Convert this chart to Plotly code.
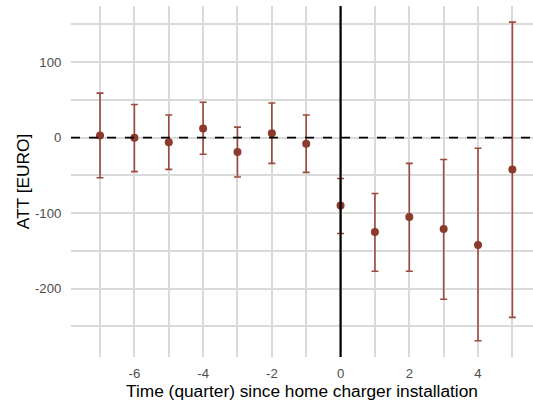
import plotly.graph_objects as go

quarters = [-7, -6, -5, -4, -3, -2, -1, 0, 1, 2, 3, 4, 5]
att = [3, 0, -6, 12, -19, 6, -8, -90, -125, -105, -121, -142, -42]
ci_upper = [59, 44, 30, 47, 14, 46, 30, -54, -74, -34, -29, -14, 153]
ci_lower = [-53, -45, -42, -22, -52, -34, -46, -127, -177, -177, -214, -269, -238]

err_plus = [u - a for u, a in zip(ci_upper, att)]
err_minus = [a - l for a, l in zip(att, ci_lower)]

fig = go.Figure()
fig.add_trace(go.Scatter(
    x=quarters, y=att, mode="markers",
    marker=dict(color="#8b3a2c", size=8),
    error_y=dict(type="data", symmetric=False, array=err_plus, arrayminus=err_minus,
                 color="#9c4a3e", thickness=1.6, width=3.5),
    showlegend=False,
))

fig.add_shape(type="line", xref="paper", x0=0, x1=1, yref="y", y0=0, y1=0,
              line=dict(color="black", width=1.6, dash="dash"), layer="above")
fig.add_shape(type="line", xref="x", x0=0, x1=0, yref="paper", y0=0, y1=1,
              line=dict(color="black", width=2.2), layer="above")

grid = "#dadada"
fig.update_layout(
    width=533, height=403,
    margin=dict(l=71, r=0, t=6, b=46),
    paper_bgcolor="white", plot_bgcolor="white",
    font=dict(family="Liberation Sans, Arial, sans-serif", color="black"),
    xaxis=dict(
        range=[-7.845, 5.60], tickmode="array", tickvals=[-6, -4, -2, 0, 2, 4],
        ticktext=["-6", "-4", "-2", "0", "2", "4"],
        showgrid=True, gridcolor=grid, gridwidth=1.6, zeroline=False,
        minor=dict(tickvals=[-7, -5, -3, -1, 1, 3, 5], showgrid=True, gridcolor=grid, gridwidth=1.6),
        ticks="outside", ticklen=4, tickcolor="rgba(0,0,0,0)",
        tickfont=dict(size=13.2, color="#4d4d4d"),
        title=dict(text="Time (quarter) since home charger installation", font=dict(size=17.3), standoff=1),
        showline=False,
    ),
    yaxis=dict(
        range=[-290.5, 174.4], tickmode="array", tickvals=[-200, -100, 0, 100],
        ticktext=["-200", "-100", "0", "100"],
        showgrid=True, gridcolor=grid, gridwidth=1.6, zeroline=False,
        minor=dict(tickvals=[-250, -150, -50, 50, 150], showgrid=True, gridcolor=grid, gridwidth=1.6),
        ticks="outside", ticklen=6, tickcolor="rgba(0,0,0,0)",
        tickfont=dict(size=13.2, color="#4d4d4d"),
        title=dict(text="ATT [EURO]", font=dict(size=17.3), standoff=0),
        showline=False,
    ),
)

fig.write_html("out.html")
